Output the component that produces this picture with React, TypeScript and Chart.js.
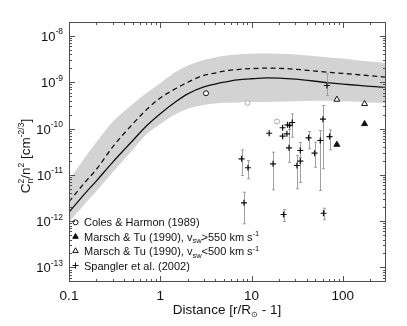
import React, { useEffect, useRef } from 'react';
import { Chart, registerables } from 'chart.js';

Chart.register(...registerables);

const FONT = '"Liberation Sans", Arial, Helvetica, sans-serif';

// ---------------- data ----------------
const modelX = [0.1, 0.15, 0.2, 0.3, 0.5, 0.7, 1, 1.5, 2, 3, 4, 5, 7, 10, 15, 20, 30, 50, 70, 100, 150, 200, 300];
const modelSolid = [1.55e-12, 3.98e-12, 7.41e-12, 1.86e-11, 5.5e-11, 1.12e-10, 2.09e-10, 3.89e-10, 5.62e-10, 7.94e-10, 9.12e-10, 1.0e-9, 1.12e-9, 1.19e-9, 1.24e-9, 1.23e-9, 1.17e-9, 1.05e-9, 9.66e-10, 9.12e-10, 8.51e-10, 8.13e-10, 7.76e-10];
const modelDashed = [2.63e-12, 6.92e-12, 1.32e-11, 3.98e-11, 1.26e-10, 2.51e-10, 4.57e-10, 7.41e-10, 1.0e-9, 1.41e-9, 1.58e-9, 1.74e-9, 1.88e-9, 1.97e-9, 2.02e-9, 2.0e-9, 1.91e-9, 1.74e-9, 1.64e-9, 1.55e-9, 1.45e-9, 1.38e-9, 1.29e-9];
const bandUpper = [7.59e-12, 2.4e-11, 5.13e-11, 1.38e-10, 3.39e-10, 5.75e-10, 9.55e-10, 1.7e-9, 2.29e-9, 3.02e-9, 3.43e-9, 3.72e-9, 3.98e-9, 4.12e-9, 4.17e-9, 4.12e-9, 3.98e-9, 3.63e-9, 3.43e-9, 3.24e-9, 2.95e-9, 2.79e-9, 2.57e-9];
const bandLower = [9.55e-13, 2.4e-12, 4.47e-12, 1.12e-11, 3.47e-11, 7.41e-11, 1.26e-10, 2.09e-10, 2.69e-10, 3.24e-10, 3.47e-10, 3.59e-10, 3.67e-10, 3.72e-10, 3.76e-10, 3.8e-10, 3.89e-10, 3.98e-10, 3.98e-10, 3.89e-10, 3.8e-10, 3.63e-10, 3.55e-10];

const colesX = [3.17, 9.04, 19.0];
const colesY = [5.78e-10, 3.59e-10, 1.42e-10];
const colesColor = ['#111111', '#a8a8a8', '#a8a8a8'];

const marschFastX = [86, 173];
const marschFastY = [4.5e-11, 1.26e-10];
const marschSlowX = [86, 173];
const marschSlowY = [4.23e-10, 3.41e-10];

const spanglerX = [7.77, 9.13, 8.26, 15.6, 17.2, 21.9, 21.9, 22.4, 24.8, 24.4, 26.1, 25.7, 27.9, 31.4, 34.2, 34.2, 42.1, 49.0, 56.6, 60.5, 61.4, 66.9, 71.5];
const spanglerY = [2.22e-11, 1.42e-11, 2.48e-12, 7.91e-11, 1.73e-11, 1.04e-10, 6.83e-11, 1.39e-12, 1.2e-10, 7.69e-11, 1.16e-10, 3.83e-11, 1.35e-10, 1.59e-11, 3.35e-11, 1.97e-11, 6.3e-11, 2.93e-11, 5.51e-11, 1.59e-10, 1.48e-12, 8.49e-10, 6.71e-11];
const spanglerLo = [9.66e-12, 8.2e-12, 8.75e-13, null, 4.74e-12, null, null, 9.8e-13, null, null, null, 1.87e-11, 6.49e-11, 4.99e-12, 2.37e-11, 6.83e-12, 3.65e-11, 1.46e-11, 4.58e-12, 1.35e-11, 1.07e-12, 5.16e-10, 3.47e-11];
const spanglerHi = [3.47e-11, 2.04e-11, 4.21e-12, null, 3.08e-11, null, null, 1.78e-12, null, null, null, 9.5e-11, 2.07e-10, 2.61e-11, 4.99e-11, 3.35e-11, 8.6e-11, 5.06e-11, 9.06e-11, 3.14e-10, 1.9e-12, 1.52e-9, 9.38e-11];

const xMin = 0.1;
const xMax = 297;
const yMin = 4.84e-14;
const yMax = 2.0e-8;
const xMajorTicks = [0.1, 1, 10, 100];
const xTickLabels = ['0.1', '1', '10', '100'];
const yMajorExps = [-8, -9, -10, -11, -12, -13];

const legendLabels = [
  [{ t: 'Coles & Harmon (1989)', s: 11 }],
  [{ t: 'Marsch & Tu (1990), v', s: 11 }, { t: 'sw', s: 7.5, dy: 2.5 }, { t: '>550 km s', s: 11 }, { t: '-1', s: 7.5, dy: -4.5 }],
  [{ t: 'Marsch & Tu (1990), v', s: 11 }, { t: 'sw', s: 7.5, dy: 2.5 }, { t: '<500 km s', s: 11 }, { t: '-1', s: 7.5, dy: -4.5 }],
  [{ t: 'Spangler et al. (2002)', s: 11 }],
];
const legendMarkers = ['circle', 'triangleFilled', 'triangleOpen', 'cross'];

// ---------------- helpers ----------------
type Run = { t: string; s: number; dy?: number; noAdv?: boolean };

function runsWidth(ctx: CanvasRenderingContext2D, runs: Run[]) {
  let w = 0;
  for (const r of runs) {
    ctx.font = `${r.s}px ${FONT}`;
    if (!r.noAdv) w += ctx.measureText(r.t).width;
  }
  return w;
}

function drawRuns(ctx: CanvasRenderingContext2D, runs: Run[], x: number, y: number, align: string) {
  const w = runsWidth(ctx, runs);
  let cx = align === 'left' ? x : align === 'center' ? x - w / 2 : x - w;
  ctx.textAlign = 'left';
  ctx.textBaseline = 'alphabetic';
  for (const r of runs) {
    ctx.font = `${r.s}px ${FONT}`;
    ctx.fillText(r.t, cx, y + (r.dy || 0));
    if (!r.noAdv) cx += ctx.measureText(r.t).width;
  }
}

function drawMarker(ctx: CanvasRenderingContext2D, kind: string, x: number, y: number) {
  ctx.save();
  ctx.strokeStyle = '#111';
  ctx.fillStyle = '#111';
  ctx.lineWidth = 1;
  if (kind === 'circle') {
    ctx.beginPath();
    ctx.arc(x, y, 2.5, 0, Math.PI * 2);
    ctx.stroke();
  } else if (kind === 'triangleFilled' || kind === 'triangleOpen') {
    const r = 3.2;
    ctx.beginPath();
    ctx.moveTo(x, y - r);
    ctx.lineTo(x + r * 0.866, y + r * 0.5);
    ctx.lineTo(x - r * 0.866, y + r * 0.5);
    ctx.closePath();
    if (kind === 'triangleFilled') ctx.fill();
    ctx.stroke();
  } else {
    ctx.beginPath();
    ctx.moveTo(x - 3, y);
    ctx.lineTo(x + 3, y);
    ctx.moveTo(x, y - 3);
    ctx.lineTo(x, y + 3);
    ctx.stroke();
  }
  ctx.restore();
}

const SPANGLER_INDEX = 7;

const decorPlugin = {
  id: 'decor',
  beforeDatasetDraw(chart: any, args: any) {
    if (args.index !== SPANGLER_INDEX) return;
    const { ctx, chartArea } = chart;
    const xs = chart.scales.x;
    const ys = chart.scales.y;
    ctx.save();
    ctx.beginPath();
    ctx.rect(chartArea.left, chartArea.top, chartArea.right - chartArea.left, chartArea.bottom - chartArea.top);
    ctx.clip();
    ctx.strokeStyle = '#a0a0a0';
    ctx.lineWidth = 1;
    for (let i = 0; i < spanglerX.length; i++) {
      const lo = spanglerLo[i];
      const hi = spanglerHi[i];
      if (lo == null || hi == null) continue;
      const px = Math.round(xs.getPixelForValue(spanglerX[i])) + 0.5;
      const pLo = ys.getPixelForValue(lo);
      const pHi = ys.getPixelForValue(hi);
      ctx.beginPath();
      ctx.moveTo(px, pLo);
      ctx.lineTo(px, pHi);
      ctx.moveTo(px - 1.5, pLo);
      ctx.lineTo(px + 1.5, pLo);
      ctx.moveTo(px - 1.5, pHi);
      ctx.lineTo(px + 1.5, pHi);
      ctx.stroke();
    }
    ctx.restore();
  },
  afterDraw(chart: any) {
    const { ctx, chartArea } = chart;
    const xs = chart.scales.x;
    const ys = chart.scales.y;
    const L = chartArea.left, R = chartArea.right, T = chartArea.top, B = chartArea.bottom;
    ctx.save();
    // frame
    ctx.strokeStyle = '#505050';
    ctx.lineWidth = 1;
    ctx.strokeRect(L + 0.5, T + 0.5, R - L - 1, B - T - 1);
    // x ticks
    ctx.beginPath();
    for (let k = -1; k <= 2; k++) {
      for (let m = 1; m <= 9; m++) {
        const v = m * Math.pow(10, k);
        if (v < xMin || v > xMax) continue;
        const px = Math.round(xs.getPixelForValue(v)) + 0.5;
        const len = m === 1 ? 6 : 3;
        ctx.moveTo(px, B);
        ctx.lineTo(px, B - len);
        ctx.moveTo(px, T);
        ctx.lineTo(px, T + len);
      }
    }
    // y ticks
    for (let k = -14; k <= -8; k++) {
      for (let m = 1; m <= 9; m++) {
        const v = m * Math.pow(10, k);
        if (v < yMin || v > yMax) continue;
        const py = Math.round(ys.getPixelForValue(v)) + 0.5;
        const len = m === 1 ? 6 : 3;
        ctx.moveTo(L, py);
        ctx.lineTo(L + len, py);
        ctx.moveTo(R, py);
        ctx.lineTo(R - len, py);
      }
    }
    ctx.stroke();

    ctx.fillStyle = '#111';
    // x tick labels
    xMajorTicks.forEach((v, i) => {
      const px = xs.getPixelForValue(v);
      drawRuns(ctx, [{ t: xTickLabels[i], s: 13.5 }], px, 300, 'center');
    });
    // y tick labels
    yMajorExps.forEach((e) => {
      const py = ys.getPixelForValue(Math.pow(10, e));
      drawRuns(ctx, [{ t: '10', s: 13 }, { t: String(e), s: 8.5, dy: -6.5 }], 63, py + 5, 'right');
    });
    // x title
    drawRuns(ctx, [{ t: 'Distance [r/R', s: 13.5 }, { t: '\u2299', s: 8, dy: 3 }, { t: ' - 1]', s: 13.5 }], 227, 314, 'center');
    // y title
    ctx.save();
    ctx.translate(30, 156);
    ctx.rotate(-Math.PI / 2);
    drawRuns(ctx, [
      { t: 'C', s: 13.5 },
      { t: 'n', s: 8.5, dy: 3, noAdv: true },
      { t: '2', s: 8.5, dy: -6 },
      { t: '/n', s: 13.5 },
      { t: '2', s: 8.5, dy: -6 },
      { t: ' [cm', s: 13.5 },
      { t: '-2/3', s: 8.5, dy: -6 },
      { t: ']', s: 13.5 },
    ], 0, 0, 'center');
    ctx.restore();
    // legend
    const rows = [222.3, 236.7, 251, 265.5];
    legendLabels.forEach((runs, i) => {
      drawMarker(ctx, legendMarkers[i], 75.5, rows[i]);
      ctx.fillStyle = '#111';
      drawRuns(ctx, runs as Run[], 84, rows[i] + 4, 'left');
    });
    ctx.restore();
  },
};

function pts(xs: number[], ys: number[]) {
  return xs.map((x, i) => ({ x, y: ys[i] }));
}

export default function App() {
  const ref = useRef<HTMLCanvasElement | null>(null);
  useEffect(() => {
    if (!ref.current) return;
    const chart = new Chart(ref.current, {
      type: 'scatter',
      data: {
        datasets: [
          { order: 20, data: pts(modelX, bandLower), showLine: true, borderWidth: 0, pointRadius: 0, fill: false, borderColor: 'rgba(0,0,0,0)', cubicInterpolationMode: 'monotone' } as any,
          { order: 19, data: pts(modelX, bandUpper), showLine: true, borderWidth: 0, pointRadius: 0, fill: '-1', backgroundColor: '#d3d3d3', borderColor: 'rgba(0,0,0,0)', cubicInterpolationMode: 'monotone' } as any,
          { order: 10, data: pts(modelX, modelSolid), showLine: true, borderWidth: 1.3, pointRadius: 0, borderColor: '#111', fill: false, cubicInterpolationMode: 'monotone' } as any,
          { order: 9, data: pts(modelX, modelDashed), showLine: true, borderWidth: 1.3, pointRadius: 0, borderColor: '#111', borderDash: [5, 3.5], fill: false, cubicInterpolationMode: 'monotone' } as any,
          { order: 4, data: pts(colesX, colesY), pointStyle: 'circle', pointRadius: 2.5, borderWidth: 1, pointBorderColor: colesColor, pointBackgroundColor: '#ffffff' } as any,
          { order: 3, data: pts(marschFastX, marschFastY), pointStyle: 'triangle', pointRadius: 3.4, borderWidth: 1, pointBorderColor: '#111', pointBackgroundColor: '#111' } as any,
          { order: 2, data: pts(marschSlowX, marschSlowY), pointStyle: 'triangle', pointRadius: 3.4, borderWidth: 1, pointBorderColor: '#111', pointBackgroundColor: '#ffffff' } as any,
          { order: 1, data: pts(spanglerX, spanglerY), pointStyle: 'cross', pointRadius: 3, borderWidth: 1.2, pointBorderColor: '#111', pointBackgroundColor: '#111' } as any,
        ],
      },
      options: {
        responsive: false,
        animation: false,
        devicePixelRatio: 1,
        layout: { padding: { left: 69, right: 21, top: 22, bottom: 44 }, autoPadding: false } as any,
        plugins: { legend: { display: false }, tooltip: { enabled: false } },
        events: [],
        scales: {
          x: { type: 'logarithmic', min: xMin, max: xMax, display: false },
          y: { type: 'logarithmic', min: yMin, max: yMax, display: false },
        },
      } as any,
      plugins: [decorPlugin],
    });
    return () => chart.destroy();
  }, []);
  return (
    <div style={{ position: 'absolute', left: 0, top: 0, width: 407, height: 326, background: '#fff' }}>
      <canvas ref={ref} width={407} height={326} style={{ width: 407, height: 326, display: 'block' }} />
    </div>
  );
}
